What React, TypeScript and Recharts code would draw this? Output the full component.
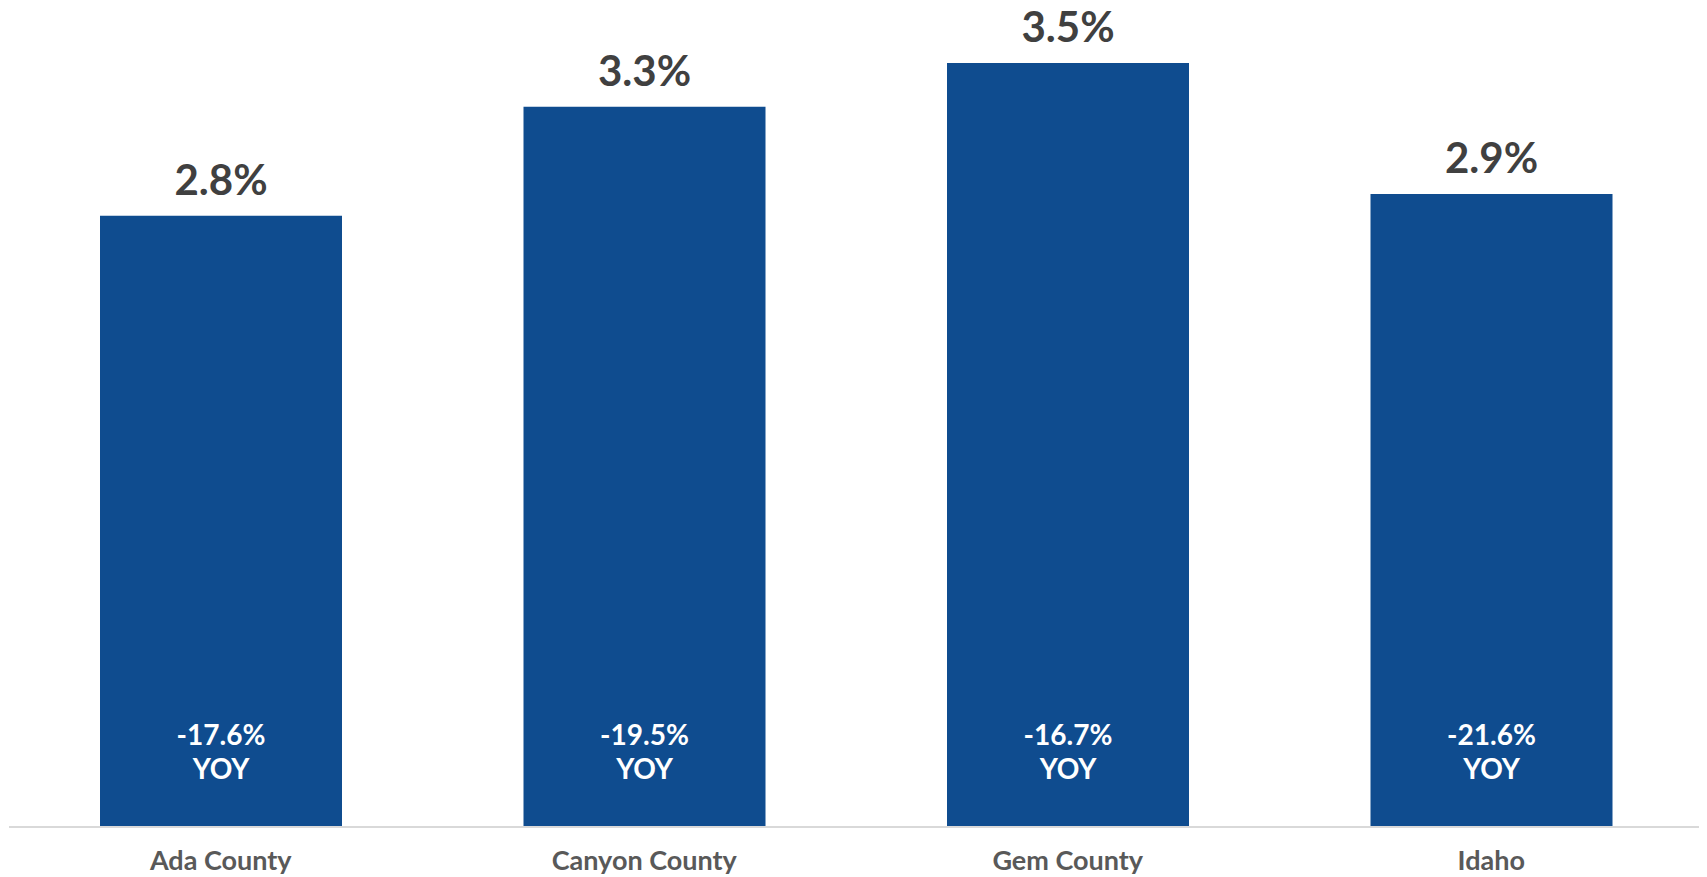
import { Bar, BarChart, LabelList, XAxis, YAxis } from "recharts";

const categories = ["Ada County", "Canyon County", "Gem County", "Idaho"];
const shareValues = [2.8, 3.3, 3.5, 2.9];
const yoyChanges = [-17.6, -19.5, -16.7, -21.6];

const data = categories.map((name, i) => ({ name, share: shareValues[i], yoy: yoyChanges[i] }));

const FONT = "Lato, 'Noto Sans', sans-serif";

function TopLabel(props: any) {
  const { x, y, width, value } = props;
  return (
    <text x={x + width / 2} y={y - 21} textAnchor="middle" fontFamily={FONT} fontWeight={700} fontSize={42} fill="#404040">
      {value.toFixed(1)}%
    </text>
  );
}

function InnerLabel(props: any) {
  const { x, y, width, height, value } = props;
  const bottom = y + height;
  const cx = x + width / 2;
  return (
    <text textAnchor="middle" fontFamily={FONT} fontWeight={700} fontSize={28} fill="#ffffff">
      <tspan x={cx} y={bottom - 82}>{value.toFixed(1)}%</tspan>
      <tspan x={cx} y={bottom - 48}>YOY</tspan>
    </text>
  );
}

function CategoryTick(props: any) {
  const { x, y, payload } = props;
  return (
    <text x={x} y={y + 43} textAnchor="middle" fontFamily={FONT} fontWeight={700} fontSize={27} fill="#595959">
      {payload.value}
    </text>
  );
}

export default function App() {
  return (
    <div style={{ marginTop: -8 }}>
      <BarChart
        width={1699}
        height={876}
        data={data}
        margin={{ top: 63, right: 4, bottom: 0, left: 1 }}
        style={{ overflow: "visible" }}
      >
        <XAxis
          dataKey="name"
          axisLine={{ stroke: "#d9d9d9", strokeWidth: 2 }}
          tickLine={false}
          tickSize={0}
          tickMargin={0}
          height={49}
          interval={0}
          tick={<CategoryTick />}
        />
        <YAxis hide domain={[0, 3.5]} />
        <Bar dataKey="share" fill="#0f4c8f" barSize={242} isAnimationActive={false}>
          <LabelList dataKey="share" content={<TopLabel />} />
          <LabelList dataKey="yoy" content={<InnerLabel />} />
        </Bar>
      </BarChart>
    </div>
  );
}
